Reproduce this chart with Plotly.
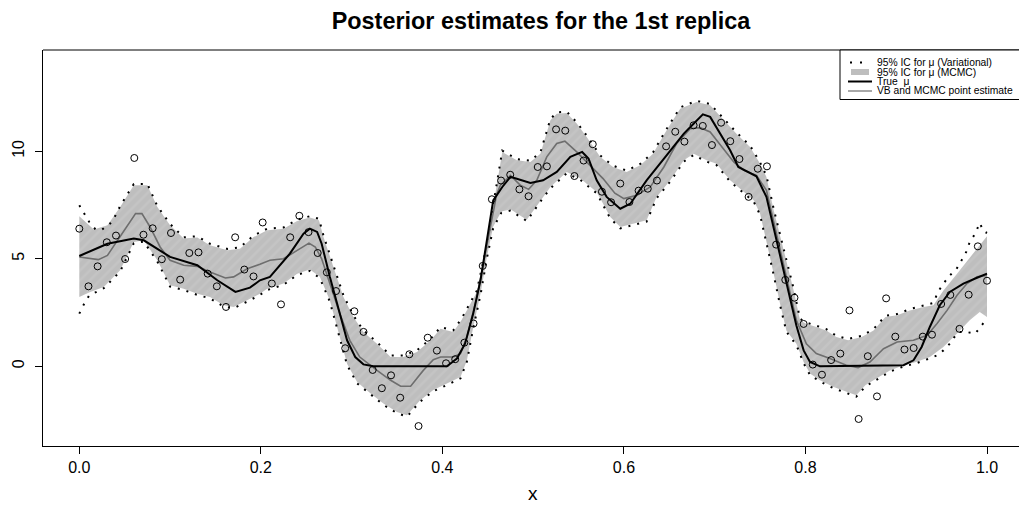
import numpy as np
import plotly.graph_objects as go

# ---------------- data ----------------
x_obs = np.linspace(0, 1, 100)
y_obs = [6.40, 3.72, 4.65, 5.77, 6.08, 4.99, 9.69, 6.12, 6.42, 4.98,
         6.20, 4.03, 5.27, 5.30, 4.31, 3.72, 2.76, 6.00, 4.50, 4.18,
         6.69, 3.85, 2.88, 6.00, 7.00, 6.24, 5.27, 4.37, 3.50, 0.84,
         2.56, 1.60, -0.17, -1.02, -0.42, -1.46, 0.56, -2.78, 1.33, 0.73,
         0.14, 0.33, 1.10, 1.99, 4.67, 7.77, 8.64, 8.91, 8.23, 7.91,
         9.27, 9.30, 11.02, 10.96, 8.85, 9.57, 10.33, 8.12, 7.63, 8.50,
         7.64, 8.17, 8.26, 8.64, 10.23, 10.91, 10.45, 11.21, 11.18, 10.29,
         11.33, 10.47, 9.64, 7.88, 9.19, 9.30, 5.66, 4.02, 3.19, 1.97,
         0.08, -0.39, 0.29, 0.59, 2.60, -2.45, 0.47, -1.40, 3.16, 1.38,
         0.78, 0.85, 1.38, 1.47, 2.90, 3.32, 1.74, 3.33, 5.58, 3.98]

mu_x = [0.000, 0.031, 0.060, 0.071, 0.100, 0.130, 0.152, 0.172, 0.188, 0.199,
        0.210, 0.232, 0.247, 0.254, 0.262, 0.267, 0.276, 0.286, 0.295, 0.304,
        0.313, 0.324, 0.405, 0.416, 0.425, 0.434, 0.442, 0.449, 0.456, 0.466,
        0.475, 0.482, 0.497, 0.511, 0.526, 0.541, 0.554, 0.561, 0.570, 0.581,
        0.596, 0.607, 0.625, 0.647, 0.666, 0.677, 0.687, 0.695, 0.706, 0.717,
        0.726, 0.746, 0.757, 0.768, 0.779, 0.790, 0.798, 0.805, 0.816, 0.908,
        0.919, 0.928, 0.937, 0.948, 0.959, 0.974, 0.989, 1.000]
mu_y = [5.13, 5.70, 5.94, 5.86, 5.09, 4.70, 4.00, 3.46, 3.66, 4.00,
        4.16, 5.24, 6.17, 6.40, 6.25, 5.70, 4.16, 2.60, 1.21, 0.43,
        0.09, 0.00, 0.00, 0.36, 1.05, 2.45, 4.00, 5.86, 7.72, 8.34,
        8.81, 8.72, 8.53, 8.65, 9.04, 9.74, 9.97, 9.66, 8.65, 7.88,
        7.33, 7.56, 8.65, 9.81, 10.82, 11.29, 11.72, 11.60, 10.82, 10.05,
        9.27, 8.84, 7.88, 5.86, 3.85, 1.90, 0.74, 0.20, 0.00, 0.05,
        0.28, 0.90, 1.83, 2.84, 3.46, 3.85, 4.12, 4.31]

est_x = [0.000, 0.021, 0.031, 0.045, 0.062, 0.069, 0.078, 0.089, 0.100, 0.115,
         0.130, 0.144, 0.161, 0.170, 0.185, 0.199, 0.210, 0.225, 0.240, 0.253,
         0.260, 0.267, 0.276, 0.287, 0.298, 0.309, 0.328, 0.343, 0.354, 0.365,
         0.379, 0.390, 0.398, 0.412, 0.420, 0.427, 0.438, 0.449, 0.460, 0.464,
         0.475, 0.486, 0.495, 0.504, 0.515, 0.526, 0.535, 0.548, 0.563, 0.577,
         0.590, 0.600, 0.614, 0.629, 0.644, 0.658, 0.673, 0.684, 0.695, 0.710,
         0.721, 0.732, 0.746, 0.757, 0.768, 0.779, 0.790, 0.801, 0.812, 0.827,
         0.845, 0.858, 0.871, 0.886, 0.901, 0.919, 0.934, 0.945, 0.956, 0.967,
         0.978, 0.989, 1.000]
est_y = [5.08, 4.96, 5.16, 6.01, 7.10, 7.10, 6.48, 5.55, 4.93, 4.70,
         4.65, 4.39, 4.11, 4.16, 4.54, 4.75, 4.93, 5.00, 5.40, 5.73,
         5.55, 5.00, 3.85, 2.45, 1.21, 0.43, -0.19, -0.65, -0.93, -0.93,
         -0.19, 0.31, 0.43, 0.43, 0.59, 1.36, 3.22, 5.55, 8.03, 8.42,
         8.88, 8.42, 8.23, 8.65, 9.74, 10.36, 10.47, 9.97, 9.35, 8.73,
         8.05, 7.80, 7.95, 8.34, 9.27, 10.36, 11.05, 11.10, 10.90, 10.12,
         9.50, 9.12, 8.88, 8.19, 6.17, 4.16, 2.14, 1.05, 0.59, 0.36,
         0.05, -0.06, 0.20, 0.82, 1.13, 1.21, 1.44, 1.99, 2.60, 3.30,
         3.85, 4.16, 4.23]

mcmc_up_x = [0.000, 0.016, 0.031, 0.045, 0.060, 0.075, 0.086, 0.100, 0.115, 0.130,
             0.144, 0.163, 0.177, 0.192, 0.207, 0.225, 0.240, 0.254, 0.264, 0.269,
             0.280, 0.291, 0.302, 0.313, 0.328, 0.343, 0.357, 0.372, 0.387, 0.398,
             0.412, 0.421, 0.438, 0.444, 0.450, 0.454, 0.460, 0.466, 0.482, 0.497,
             0.508, 0.519, 0.526, 0.537, 0.548, 0.559, 0.574, 0.588, 0.603, 0.618,
             0.632, 0.647, 0.662, 0.680, 0.695, 0.710, 0.724, 0.739, 0.750, 0.757,
             0.765, 0.776, 0.787, 0.794, 0.800, 0.812, 0.823, 0.834, 0.847, 0.862,
             0.875, 0.888, 0.901, 0.915, 0.930, 0.941, 0.952, 0.967, 0.981, 0.992,
             1.000]
mcmc_up_y = [6.98, 6.36, 6.56, 7.41, 8.42, 8.42, 7.41, 6.56, 5.94, 5.99,
             5.63, 5.40, 5.47, 6.01, 6.33, 6.40, 6.76, 6.92, 6.79, 6.01,
             4.62, 3.22, 2.29, 1.60, 1.05, 0.43, 0.43, 0.67, 1.21, 1.75,
             1.60, 2.14, 3.46, 4.62, 5.78, 6.94, 8.42, 9.97, 9.58, 9.50,
             9.89, 11.44, 11.75, 11.78, 11.29, 10.67, 9.74, 9.27, 9.04, 9.35,
             9.89, 10.98, 11.98, 12.29, 12.14, 11.44, 10.82, 10.20, 9.42, 8.81,
             7.26, 5.40, 3.53, 2.14, 1.99, 1.83, 1.67, 1.36, 1.21, 1.36,
             1.67, 2.29, 2.37, 2.60, 2.76, 2.84, 3.53, 4.31, 5.08, 5.63,
             6.05]

mcmc_lo_x = [0.000, 0.012, 0.027, 0.045, 0.060, 0.071, 0.086, 0.100, 0.115, 0.130,
             0.144, 0.159, 0.170, 0.185, 0.199, 0.207, 0.225, 0.240, 0.254, 0.265,
             0.276, 0.286, 0.295, 0.306, 0.321, 0.335, 0.350, 0.361, 0.375, 0.390,
             0.405, 0.420, 0.427, 0.434, 0.442, 0.449, 0.456, 0.465, 0.475, 0.486,
             0.493, 0.508, 0.519, 0.537, 0.552, 0.570, 0.585, 0.596, 0.610, 0.625,
             0.636, 0.651, 0.666, 0.677, 0.691, 0.702, 0.717, 0.732, 0.743, 0.750,
             0.757, 0.765, 0.772, 0.779, 0.790, 0.798, 0.805, 0.816, 0.831, 0.845,
             0.856, 0.866, 0.878, 0.893, 0.908, 0.922, 0.937, 0.952, 0.967, 0.981,
             0.992, 1.000]
mcmc_lo_y = [3.22, 3.46, 3.69, 4.47, 5.78, 5.86, 4.93, 3.77, 3.61, 3.38,
             3.22, 2.84, 2.76, 3.07, 3.38, 3.61, 3.85, 4.31, 4.50, 4.16,
             3.07, 1.52, 0.12, -0.73, -1.27, -1.73, -2.12, -2.28, -1.60, -1.10,
             -0.81, -0.50, 0.28, 1.83, 3.38, 5.08, 6.50, 7.20, 7.30, 7.00,
             6.82, 7.72, 8.34, 9.04, 8.73, 8.11, 6.94, 6.48, 6.64, 6.79,
             7.88, 8.65, 9.58, 9.89, 9.58, 9.42, 8.65, 8.11, 7.72, 7.10,
             5.86, 4.31, 2.91, 1.67, 1.05, 0.20, -0.34, -0.65, -0.96, -1.19,
             -1.35, -0.88, -0.57, -0.19, 0.05, 0.20, 0.43, 0.90, 1.52, 2.14,
             2.53, 2.29]

vb_up_x = [0.000, 0.005, 0.011, 0.018, 0.025, 0.034, 0.040, 0.045, 0.060, 0.075,
           0.086, 0.100, 0.115, 0.130, 0.144, 0.163, 0.177, 0.192, 0.207, 0.225,
           0.240, 0.254, 0.264, 0.269, 0.280, 0.291, 0.302, 0.313, 0.328, 0.343,
           0.357, 0.372, 0.387, 0.398, 0.412, 0.421, 0.438, 0.444, 0.450, 0.454,
           0.460, 0.466, 0.482, 0.497, 0.508, 0.519, 0.526, 0.537, 0.548, 0.559,
           0.574, 0.588, 0.603, 0.618, 0.632, 0.647, 0.662, 0.680, 0.695, 0.710,
           0.724, 0.739, 0.750, 0.757, 0.765, 0.776, 0.787, 0.794, 0.800, 0.812,
           0.823, 0.834, 0.847, 0.862, 0.875, 0.888, 0.901, 0.915, 0.930, 0.941,
           0.946, 0.952, 0.959, 0.966, 0.972, 0.977, 0.981, 0.987, 0.992, 0.996,
           1.000]
vb_up_y = [7.49, 7.13, 6.71, 6.36, 6.36, 6.64, 7.02, 7.45, 8.48, 8.48,
           7.45, 6.62, 6.00, 6.05, 5.70, 5.46, 5.53, 6.08, 6.40, 6.46,
           6.82, 6.98, 6.86, 6.08, 4.70, 3.30, 2.36, 1.67, 1.12, 0.50,
           0.50, 0.74, 1.28, 1.82, 1.67, 2.21, 3.52, 4.68, 5.84, 7.00,
           8.48, 10.03, 9.64, 9.56, 9.95, 11.50, 11.81, 11.84, 11.35, 10.73,
           9.80, 9.33, 9.10, 9.41, 9.95, 11.04, 12.04, 12.35, 12.20, 11.50,
           10.88, 10.26, 9.48, 8.87, 7.32, 5.46, 3.60, 2.21, 2.05, 1.89,
           1.73, 1.42, 1.27, 1.42, 1.73, 2.35, 2.43, 2.66, 2.82, 2.95,
           3.46, 3.85, 4.23, 4.50, 4.93, 5.31, 5.78, 6.17, 6.67, 6.29,
           6.20]

vb_lo_x = [0.000, 0.005, 0.011, 0.018, 0.027, 0.045, 0.060, 0.071, 0.086, 0.100,
           0.115, 0.130, 0.144, 0.159, 0.170, 0.185, 0.199, 0.207, 0.225, 0.240,
           0.254, 0.265, 0.276, 0.286, 0.295, 0.306, 0.321, 0.335, 0.350, 0.361,
           0.375, 0.390, 0.405, 0.420, 0.427, 0.434, 0.442, 0.449, 0.456, 0.465,
           0.475, 0.486, 0.493, 0.508, 0.519, 0.537, 0.552, 0.570, 0.585, 0.596,
           0.610, 0.625, 0.636, 0.651, 0.666, 0.677, 0.691, 0.702, 0.717, 0.732,
           0.743, 0.750, 0.757, 0.765, 0.772, 0.779, 0.790, 0.798, 0.805, 0.816,
           0.831, 0.845, 0.856, 0.866, 0.878, 0.893, 0.908, 0.922, 0.937, 0.945,
           0.952, 0.959, 0.968, 0.977, 0.987, 0.993, 0.999]
vb_lo_y = [2.45, 2.88, 3.30, 3.46, 3.63, 4.41, 5.72, 5.80, 4.87, 3.71,
           3.55, 3.32, 3.16, 2.78, 2.70, 3.01, 3.32, 3.55, 3.79, 4.25,
           4.44, 4.10, 3.01, 1.46, 0.06, -0.79, -1.33, -1.79, -2.18, -2.34,
           -1.66, -1.16, -0.87, -0.56, 0.22, 1.77, 3.32, 5.02, 6.44, 7.14,
           7.24, 6.94, 6.76, 7.66, 8.28, 8.98, 8.67, 8.05, 6.88, 6.42,
           6.58, 6.73, 7.82, 8.59, 9.52, 9.83, 9.52, 9.36, 8.59, 8.05,
           7.66, 7.04, 5.80, 4.25, 2.85, 1.61, 0.99, 0.14, -0.40, -0.71,
           -1.02, -1.25, -1.41, -0.94, -0.63, -0.25, -0.01, 0.14, 0.37, 0.51,
           0.74, 1.05, 1.60, 1.60, 1.52, 1.83, 2.17]

x_ticks = [0.0, 0.2, 0.4, 0.6, 0.8, 1.0]
x_tick_labels = ["0.0", "0.2", "0.4", "0.6", "0.8", "1.0"]
y_ticks = [0, 5, 10]
y_tick_labels = ["0", "5", "10"]

legend_labels = ["95% IC for \u03bc (Variational)", "95% IC for \u03bc (MCMC)",
                 "True  \u03bc", "VB and MCMC point estimate"]

# ---------------- figure ----------------
W, H = 1019, 510
ML, MR, MT, MB = 43, 0, 50, 64
PW, PH = W - ML - MR, H - MT - MB

def pp(px, py):
    return (px - ML) / PW, (H - MB - py) / PH

FONT = "Liberation Sans, Arial, Helvetica, sans-serif"
fig = go.Figure()

band_x = list(mcmc_up_x) + list(mcmc_lo_x[::-1])
band_y = list(mcmc_up_y) + list(mcmc_lo_y[::-1])
fig.add_trace(go.Scatter(
    x=band_x, y=band_y, mode="lines", fill="toself",
    fillcolor="#bebebe", line=dict(width=0, color="rgba(0,0,0,0)"),
    fillpattern=dict(shape="/", bgcolor="#bebebe", fgcolor="#cacaca",
                     size=7, solidity=0.35),
    hoverinfo="skip", showlegend=False))

for vx, vy in ((vb_up_x, vb_up_y), (vb_lo_x, vb_lo_y)):
    fig.add_trace(go.Scatter(
        x=vx, y=vy, mode="lines",
        line=dict(color="black", width=2, dash="2px,7px"),
        showlegend=False))

fig.add_trace(go.Scatter(x=est_x, y=est_y, mode="lines",
                         line=dict(color="#6e6e6e", width=1.6), showlegend=False))
fig.add_trace(go.Scatter(x=mu_x, y=mu_y, mode="lines",
                         line=dict(color="black", width=2), showlegend=False))
fig.add_trace(go.Scatter(x=x_obs, y=y_obs, mode="markers",
                         marker=dict(symbol="circle-open", size=7,
                                     color="black", line=dict(width=1, color="black")),
                         showlegend=False))

x0 = (ML - 79.3) / 907.7
x1 = (W - 79.3) / 907.7
y0 = (366.3 - (H - MB)) / 21.5
y1 = (366.3 - MT) / 21.5

shapes = []
# top border of plot box
shapes.append(dict(type="line", xref="paper", yref="paper", x0=0, x1=1.01, y0=1, y1=1,
                   line=dict(color="black", width=1)))

# manual legend
lx0, ly0 = pp(840, 50)
lx1, ly1 = pp(1030, 99.5)
shapes.append(dict(type="rect", xref="paper", yref="paper", x0=lx0, x1=lx1, y0=ly1, y1=ly0,
                   line=dict(color="black", width=1), fillcolor="white", layer="above"))
rows = [62.5, 72, 81.5, 91]
# row 1: two dots
for dx in (851, 861):
    a, b = pp(dx - 1, rows[0] - 1)
    c, d = pp(dx + 1, rows[0] + 1)
    shapes.append(dict(type="rect", xref="paper", yref="paper", x0=a, x1=c, y0=d, y1=b,
                       line=dict(width=0), fillcolor="black", layer="above"))
# row 2: thick gray
a, b = pp(851, rows[1]); c, _ = pp(869, rows[1])
shapes.append(dict(type="line", xref="paper", yref="paper", x0=a, x1=c, y0=b, y1=b,
                   line=dict(color="#bebebe", width=6), layer="above"))
# row 3: black
a, b = pp(848, rows[2]); c, _ = pp(872, rows[2])
shapes.append(dict(type="line", xref="paper", yref="paper", x0=a, x1=c, y0=b, y1=b,
                   line=dict(color="black", width=2), layer="above"))
# row 4: gray
a, b = pp(848, rows[3]); c, _ = pp(872, rows[3])
shapes.append(dict(type="line", xref="paper", yref="paper", x0=a, x1=c, y0=b, y1=b,
                   line=dict(color="#6e6e6e", width=1.2), layer="above"))

annotations = []
for r, lab in zip(rows, legend_labels):
    a, b = pp(875, r)
    annotations.append(dict(text=lab, xref="paper", yref="paper", x=a, y=b,
                            xanchor="left", yanchor="middle", showarrow=False,
                            font=dict(family=FONT, size=10.3, color="black")))
# x-axis title
a, b = pp(533, 494)
annotations.append(dict(text="x", xref="paper", yref="paper", x=a, y=b,
                        xanchor="center", yanchor="middle", showarrow=False,
                        font=dict(family=FONT, size=19, color="black")))

fig.update_layout(
    width=W, height=H,
    margin=dict(l=ML, r=MR, t=MT, b=MB),
    paper_bgcolor="white", plot_bgcolor="white",
    title=dict(text="<b>Posterior estimates for the 1st replica</b>",
               x=541 / W, xref="container", xanchor="center",
               y=1 - 21 / H, yref="container", yanchor="middle",
               font=dict(family=FONT, size=23.4, color="black")),
    xaxis=dict(range=[x0, x1], tickvals=x_ticks, ticktext=x_tick_labels,
               showgrid=False, zeroline=False, showline=True, linecolor="black",
               linewidth=1, ticks="outside", ticklen=7, tickcolor="black",
               tickfont=dict(family=FONT, size=16, color="black")),
    yaxis=dict(range=[y0, y1], tickvals=y_ticks, ticktext=y_tick_labels,
               showgrid=False, zeroline=False, showline=True, linecolor="black",
               linewidth=1, ticks="outside", ticklen=7, tickcolor="black",
               tickangle=-90, ticklabelstandoff=5,
               tickfont=dict(family=FONT, size=16, color="black")),
    shapes=shapes, annotations=annotations,
    showlegend=False,
)

fig.write_html("out.html", config={"displayModeBar": False},
               post_script="document.body.style.margin='0';document.body.style.padding='0';")
